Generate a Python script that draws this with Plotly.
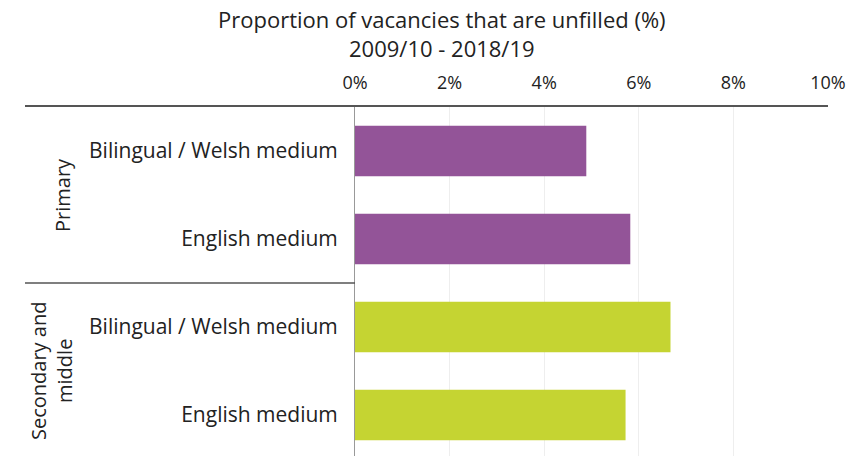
import plotly.graph_objects as go

# Data
categories = ["Bilingual / Welsh medium", "English medium", "Bilingual / Welsh medium", "English medium"]
groups = ["Primary", "Secondary and<br>middle"]
values = [4.89, 5.82, 6.67, 5.72]
bar_colors = ["#935498", "#935498", "#c5d432", "#c5d432"]
x_tick_vals = [0, 2, 4, 6, 8, 10]
x_tick_text = ["0%", "2%", "4%", "6%", "8%", "10%"]
title_lines = ["Proportion of vacancies that are unfilled (%)", "2009/10 - 2018/19"]

W, H = 868, 456
L, R, T, B = 355, 40, 107, 0
PW = W - L - R
PH = H - T - B
FONT = "Open Sans"
TXT = "#222222"

ypos = list(range(len(categories)))

fig = go.Figure()
fig.add_trace(go.Bar(
    x=values, y=ypos, orientation="h",
    marker=dict(color=bar_colors, line=dict(width=0)),
    width=0.574, hoverinfo="x+y",
))

def px_x(px):
    return (px - L) / PW

def px_y(py):
    return (H - B - py) / PH

shapes = [
    dict(type="line", xref="paper", yref="paper", x0=px_x(25), x1=1.0,
         y0=px_y(106), y1=px_y(106), line=dict(color="#555555", width=2)),
    dict(type="line", xref="paper", yref="paper", x0=px_x(25), x1=0,
         y0=px_y(283), y1=px_y(283), line=dict(color="#555555", width=1.5)),
]

annotations = [
    dict(text="<br>".join(title_lines), xref="paper", yref="paper", x=px_x(442), y=px_y(34),
         showarrow=False, xanchor="center", yanchor="middle", align="center",
         font=dict(family=FONT, size=22, color=TXT)),
    dict(text=groups[0], xref="paper", yref="paper", x=px_x(62), y=px_y(195),
         textangle=-90, showarrow=False, xanchor="center", yanchor="middle",
         font=dict(family=FONT, size=20, color=TXT)),
    dict(text=groups[1], xref="paper", yref="paper", x=px_x(51), y=px_y(371),
         textangle=-90, showarrow=False, xanchor="center", yanchor="middle",
         font=dict(family=FONT, size=20, color=TXT)),
]

fig.update_layout(
    width=W, height=H,
    margin=dict(l=L, r=R, t=T, b=B, pad=0, autoexpand=False),
    paper_bgcolor="white", plot_bgcolor="white",
    showlegend=False,
    font=dict(family=FONT, size=20, color=TXT),
    shapes=shapes,
    annotations=annotations,
    xaxis=dict(range=[0, 10], side="top", tickvals=x_tick_vals, ticktext=x_tick_text,
               showgrid=True, gridcolor="#eeeeee", gridwidth=1, zeroline=False,
               showline=False, ticks="outside", ticklen=10, tickcolor="rgba(0,0,0,0)",
               tickfont=dict(family=FONT, size=18, color=TXT), fixedrange=True,
               automargin=False),
    yaxis=dict(range=[len(categories) - 0.5 - (len(categories) - PH / 88), -0.5],
               tickvals=ypos, ticktext=categories,
               showgrid=False, zeroline=False, showline=True, linecolor="#999999", linewidth=1,
               ticks="outside", ticklen=12, tickcolor="rgba(0,0,0,0)",
               tickfont=dict(family=FONT, size=21, color=TXT), fixedrange=True,
               automargin=False),
    bargap=0.426,
)

fig.write_html("out.html", config={"displayModeBar": False},
               post_script="document.body.style.margin='0';")
